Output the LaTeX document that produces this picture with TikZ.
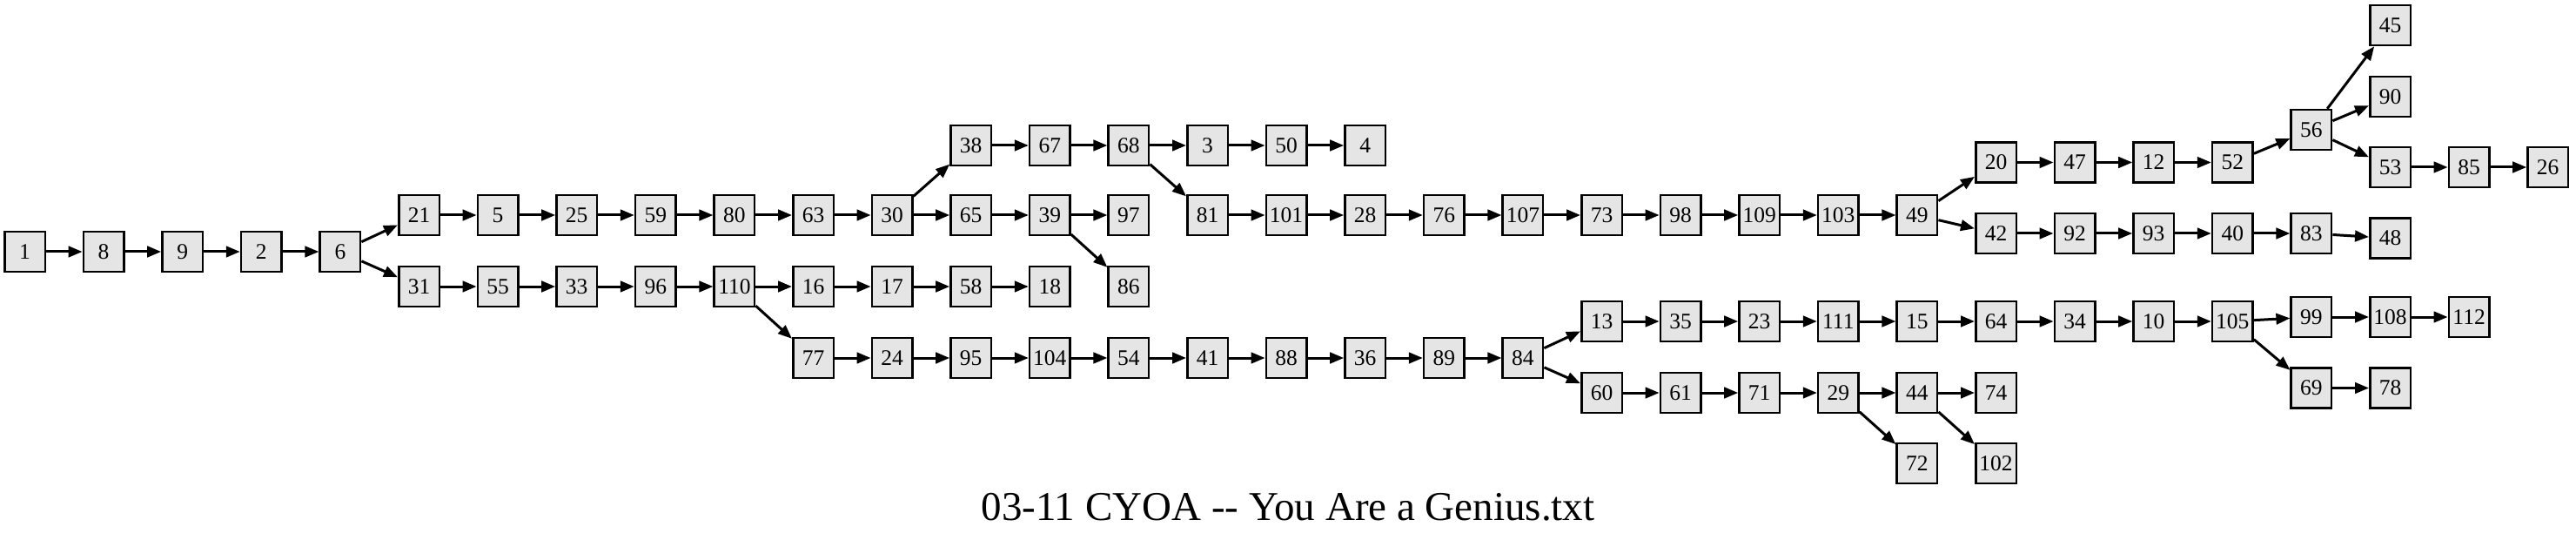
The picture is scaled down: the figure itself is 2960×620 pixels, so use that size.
\documentclass[tikz,border=0pt]{standalone}
\usepackage{fontspec}
\setmainfont{Liberation Serif}
\usetikzlibrary{arrows.meta}
\definecolor{nodefill}{RGB}{229,229,229}
\begin{document}
\begin{tikzpicture}[x=1pt,y=-1pt,
  box/.style={draw=black,fill=nodefill,line width=2.5pt,minimum width=46.5pt,minimum height=46pt,inner sep=0pt,font=\fontsize{25.5}{25.5}\selectfont},
  edge/.style={line width=3pt,-{Triangle[length=16pt,width=12.5pt]}}]
\useasboundingbox (0,0) rectangle (2960,620);
\foreach \n/\c/\y in {1/0/289, 8/1/289, 9/2/289, 2/3/289, 6/4/289,
21/5/247, 31/5/329,
5/6/247, 55/6/329,
25/7/247, 33/7/329,
59/8/247, 96/8/329,
80/9/247, 110/9/329,
63/10/247, 16/10/329, 77/10/411,
30/11/247, 17/11/329, 24/11/411,
38/12/167, 65/12/247, 58/12/329, 95/12/411,
67/13/167, 39/13/247, 18/13/329, 104/13/411,
68/14/167, 97/14/247, 86/14/329, 54/14/411,
3/15/167, 81/15/247, 41/15/411,
50/16/167, 101/16/247, 88/16/411,
4/17/167, 28/17/247, 36/17/411,
76/18/247, 89/18/411,
107/19/247, 84/19/411,
73/20/247, 13/20/369, 60/20/451,
98/21/247, 35/21/369, 61/21/451,
109/22/247, 23/22/369, 71/22/451,
103/23/247, 111/23/369, 29/23/451,
49/24/247, 15/24/369, 44/24/451, 72/24/532,
20/25/186.5, 42/25/268, 64/25/369, 74/25/451, 102/25/532,
47/26/186.5, 92/26/268, 34/26/369,
12/27/186.5, 93/27/268, 10/27/369,
52/28/186.5, 40/28/268, 105/28/369,
56/29/149, 83/29/268, 99/29/364, 69/29/445.5,
45/30/29, 90/30/111, 53/30/192, 48/30/273.5, 108/30/364, 78/30/445.5,
85/31/192, 112/31/364,
26/32/192}
  \node[box] (n\n) at ({28.5+90.6*\c},\y) {\n};
\foreach \a/\b in {1/8, 8/9, 9/2, 2/6, 6/21, 6/31, 21/5, 5/25, 25/59, 59/80, 80/63, 63/30, 30/38, 30/65, 38/67, 67/68, 68/3, 68/81, 3/50, 50/4, 65/39, 39/97, 39/86, 81/101, 101/28, 28/76, 76/107, 107/73, 73/98, 98/109, 109/103, 103/49, 49/20, 49/42, 20/47, 47/12, 12/52, 52/56, 56/45, 56/90, 56/53, 53/85, 85/26, 42/92, 92/93, 93/40, 40/83, 83/48,
31/55, 55/33, 33/96, 96/110, 110/16, 110/77, 16/17, 17/58, 58/18, 77/24, 24/95, 95/104, 104/54, 54/41, 41/88, 88/36, 36/89, 89/84, 84/13, 84/60, 13/35, 35/23, 23/111, 111/15, 15/64, 64/34, 34/10, 10/105, 105/99, 105/69, 99/108, 108/112, 69/78, 60/61, 61/71, 71/29, 29/44, 29/72, 44/74, 44/102}
  \draw[edge] (n\a) -- (n\b);
\node[anchor=base,inner sep=0pt,font=\fontsize{47}{47}\selectfont] (title) at (1480,597) {03-11 CYOA -\kern0pt- You Are a Genius.txt};
\end{tikzpicture}
\end{document}
